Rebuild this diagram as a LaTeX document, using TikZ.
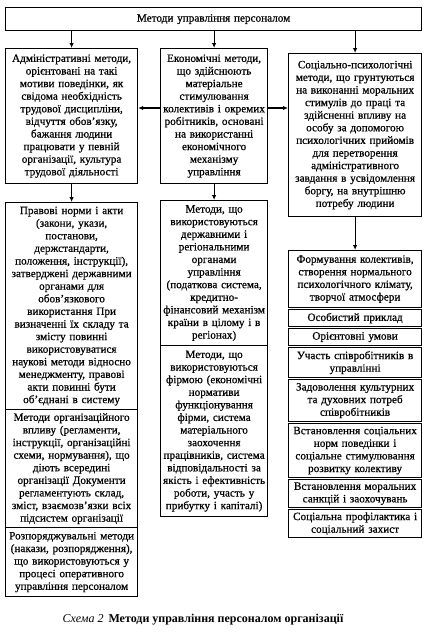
\documentclass[tikz,border=0pt]{standalone}
\usepackage{fontspec}
\setmainfont{Liberation Serif}
\newfontfamily\boxfont[FakeBold=0.6]{Liberation Serif}
\usetikzlibrary{arrows.meta}
\begin{document}
\begin{tikzpicture}[x=1pt,y=-1pt,
  blk/.style={draw, line width=1.2pt, align=center, inner xsep=1pt, inner ysep=0pt,
    anchor=north west, font=\boxfont\fontsize{11.2}{12.6}\selectfont},
  lcol/.style={blk, minimum width=132pt, text width=130pt},
  mcol/.style={blk, minimum width=107pt, text width=105pt},
  rcol/.style={blk, minimum width=133pt, text width=131pt},
  arr/.style={-{Latex[length=5pt,width=4.5pt]}, line width=1.1pt}]
\fill[white] (0,0) rectangle (427,632);
\useasboundingbox (0,0) rectangle (427,632);

\node[blk, minimum width=416pt, text width=414pt, minimum height=23pt] (T) at (5,7) {Методи управління персоналом};

\node[lcol, minimum height=135pt] (L1) at (5,48) {Адміністративні методи,\\ орієнтовані на такі\\ мотиви поведінки, як\\ свідома необхідність\\ трудової дисципліни,\\ відчуття обов’язку,\\ бажання людини\\ працювати у певній\\ організації, культура\\ трудової діяльності};

\node[mcol, minimum height=135pt] (M1) at (160,48) {Економічні методи,\\ що здійснюють\\ матеріальне\\ стимулювання\\ колективів і окремих\\ робітників, основані\\ на використанні\\ економічного\\ механізму\\ управління};

\node[rcol, minimum height=163pt] (R1) at (288,53) {Соціально-психологічні\\ методи, що грунтуються\\ на виконанні моральних\\ стимулів до праці та\\ здійсненні впливу на\\ особу за допомогою\\ психологічних прийомів\\ для перетворення\\ адміністративного\\ завдання в усвідомлення\\ боргу, на внутрішню\\ потребу людини};

\node[lcol, minimum height=207pt] (L2) at (5,202) {Правові норми і акти\\ (закони, укази,\\ постанови,\\ держстандарти,\\ положення, інструкції),\\ затверджені державними\\ органами для\\ обов’язкового\\ використання  При\\ визначенні їх складу та\\ змісту повинні\\ використовуватися\\ наукові методи відносно\\ менеджменту, правові\\ акти повинні бути\\ об’єднані в систему};

\node[lcol, minimum height=118pt] (L3) at (5,409) {Методи організаційного\\ впливу (регламенти,\\ інструкції, організаційні\\ схеми, нормування), що\\ діють всередині\\ організації  Документи\\ регламентують склад,\\ зміст, взаємозв’язки всіх\\ підсистем організації};

\node[lcol, minimum height=69pt] (L4) at (5,527) {Розпоряджувальні методи\\ (накази, розпорядження),\\ що використовуються у\\ процесі оперативного\\ управління персоналом};

\node[mcol, minimum height=145pt] (M2) at (160,200) {Методи, що\\ використовуються\\ державними і\\ регіональними\\ органами\\ управління\\ (податкова система,\\ кредитно-\\ фінансовий механізм\\ країни в цілому і в\\ регіонах)};

\node[mcol, minimum height=171pt] (M3) at (160,345) {Методи, що\\ використовуються\\ фірмою (економічні\\ нормативи\\ функціонування\\ фірми, система\\ матеріального\\ заохочення\\ працівників, система\\ відповідальності за\\ якість і ефективність\\ роботи, участь у\\ прибутку і капіталі)};

\node[rcol, minimum height=57pt] (R2) at (288,250) {Формування колективів,\\ створення нормального\\ психологічного клімату,\\ творчої атмосфери};
\node[rcol, minimum height=17pt] (R3) at (288,309) {Особистий приклад};
\node[rcol, minimum height=17pt] (R4) at (288,328) {Орієнтовні умови};
\node[rcol, minimum height=30pt] (R5) at (288,347) {Участь співробітників в\\ управлінні};
\node[rcol, minimum height=42pt] (R6) at (288,379) {Задоволення культурних\\ та духовних потреб\\ співробітників};
\node[rcol, minimum height=54pt] (R7) at (288,423) {Встановлення соціальних\\ норм поведінки і\\ соціальне стимулювання\\ розвитку колективу};
\node[rcol, minimum height=28pt] (R8) at (288,479) {Встановлення моральних\\ санкцій і заохочувань};
\node[rcol, minimum height=28pt] (R9) at (288,509) {Соціальна профілактика і\\ соціальний захист};

\node[font=\fontsize{12}{14}\selectfont, inner sep=0pt] (C) at (203,620) {\textit{Схема 2}\, \textbf{Методи управління персоналом організації}};

\coordinate (h) at (0,108);
\draw[arr] (L1.north |- T.south) -- (L1.north);
\draw[arr] (M1.north |- T.south) -- (M1.north);
\draw[arr] (R1.north |- T.south) -- (R1.north);
\draw[arr] (M1.west |- h) -- (L1.east |- h);
\draw[arr] (M1.east |- h) -- (R1.west |- h);
\draw[arr] (L1.south) -- (L2.north);
\draw[arr] (M1.south) -- (M2.north);
\draw[arr] (R1.south) -- (R2.north);
\end{tikzpicture}
\end{document}
